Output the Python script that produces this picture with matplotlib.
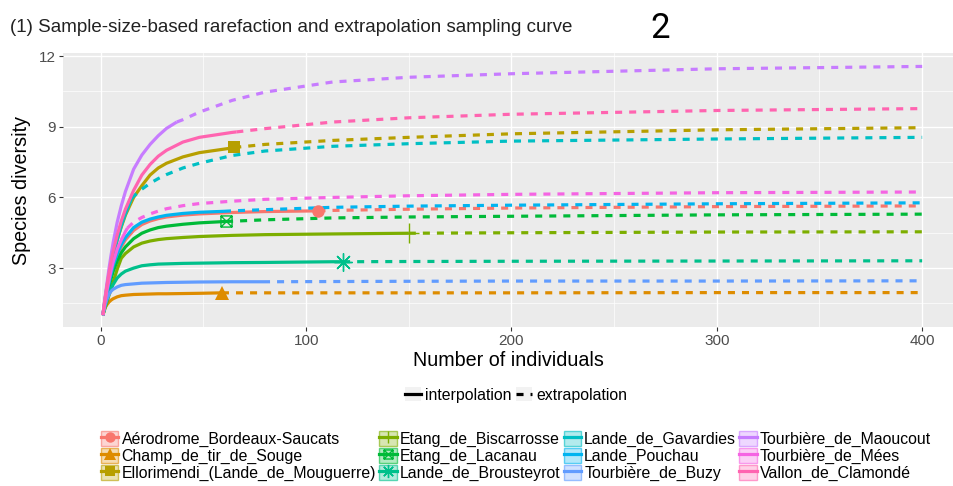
import numpy as np
import matplotlib
matplotlib.use("Agg")
import matplotlib.pyplot as plt
from matplotlib.path import Path
from matplotlib.patches import Patch
from matplotlib.lines import Line2D
from matplotlib.colors import to_rgba

plt.rcParams['font.family'] = ['Liberation Sans', 'DejaVu Sans']

m_grid = [1, 2, 3, 4, 5, 6, 8, 10, 12, 16, 20, 24, 28, 32, 40, 48, 64, 80, 113, 150, 200, 300, 400]

sites = ["Aérodrome_Bordeaux-Saucats", "Champ_de_tir_de_Souge",
         "Ellorimendi_(Lande_de_Mouguerre)", "Etang_de_Biscarrosse",
         "Etang_de_Lacanau", "Lande_de_Brousteyrot", "Lande_de_Gavardies",
         "Lande_Pouchau", "Tourbière_de_Buzy", "Tourbière_de_Maoucout",
         "Tourbière_de_Mées", "Vallon_de_Clamondé"]

# observed reference sample (size, diversity)
obs_n = [106, 59, 65, 150, 61, 118, 15, 60, 79, 37, 13, 66]
obs_s = [5.43, 1.95, 8.12, 4.48, 4.98, 3.27, 5.95, 5.41, 2.42, 9.2, 4.7, 8.78]

aerodrome = [1.0, 1.5, 1.95, 2.35, 2.7, 3.0, 3.5, 3.9, 4.2, 4.6, 4.85, 5.0, 5.1, 5.17, 5.25, 5.3, 5.36, 5.4, 5.45, 5.5, 5.55, 5.61, 5.64]
champ = [1.0, 1.3, 1.45, 1.56, 1.64, 1.7, 1.78, 1.83, 1.85, 1.88, 1.89, 1.9, 1.91, 1.91, 1.92, 1.93, 1.95, 1.95, 1.95, 1.95, 1.95, 1.96, 1.96]
ellorimendi = [1.0, 1.65, 2.2, 2.7, 3.15, 3.55, 4.2, 4.75, 5.25, 6.0, 6.5, 6.95, 7.25, 7.45, 7.72, 7.9, 8.1, 8.25, 8.42, 8.55, 8.7, 8.87, 8.96]
biscarrosse = [1.0, 1.28, 1.56, 1.84, 2.12, 2.4, 2.95, 3.42, 3.62, 3.9, 4.06, 4.15, 4.21, 4.25, 4.3, 4.34, 4.39, 4.42, 4.45, 4.48, 4.5, 4.53, 4.54]
lacanau = [1.0, 1.45, 1.85, 2.2, 2.55, 2.85, 3.3, 3.65, 3.9, 4.25, 4.48, 4.62, 4.72, 4.78, 4.86, 4.92, 4.99, 5.05, 5.13, 5.17, 5.2, 5.26, 5.29]
brousteyrot = [1.0, 1.35, 1.65, 1.92, 2.12, 2.3, 2.58, 2.75, 2.87, 3.0, 3.1, 3.14, 3.17, 3.18, 3.2, 3.21, 3.23, 3.24, 3.27, 3.28, 3.29, 3.3, 3.31]
gavardies = [1.0, 1.6, 2.15, 2.65, 3.1, 3.5, 4.2, 4.8, 5.3, 6.05, 6.35, 6.6, 6.8, 6.97, 7.25, 7.45, 7.78, 7.97, 8.17, 8.28, 8.39, 8.48, 8.55]
pouchau = [1.0, 1.5, 1.95, 2.35, 2.75, 3.1, 3.6, 4.0, 4.3, 4.72, 4.95, 5.08, 5.17, 5.24, 5.32, 5.37, 5.43, 5.48, 5.58, 5.63, 5.67, 5.73, 5.77]
buzy = [1.0, 1.4, 1.68, 1.88, 2.02, 2.1, 2.2, 2.27, 2.3, 2.33, 2.36, 2.37, 2.38, 2.39, 2.4, 2.41, 2.42, 2.42, 2.43, 2.44, 2.45, 2.45, 2.46]
maoucout = [1.0, 1.7, 2.35, 2.98, 3.55, 4.07, 4.95, 5.65, 6.25, 7.2, 7.8, 8.25, 8.62, 8.93, 9.3, 9.62, 10.12, 10.47, 10.9, 11.1, 11.25, 11.46, 11.56]
mees = [1.0, 1.55, 2.05, 2.5, 2.9, 3.25, 3.8, 4.2, 4.55, 4.95, 5.15, 5.3, 5.42, 5.52, 5.65, 5.74, 5.84, 5.92, 6.0, 6.07, 6.13, 6.2, 6.23]
clamonde = [1.0, 1.65, 2.25, 2.8, 3.3, 3.7, 4.4, 5.0, 5.5, 6.3, 6.95, 7.4, 7.75, 8.0, 8.35, 8.55, 8.76, 8.92, 9.2, 9.38, 9.53, 9.69, 9.77]

curves = [aerodrome, champ, ellorimendi, biscarrosse, lacanau, brousteyrot,
          gavardies, pouchau, buzy, maoucout, mees, clamonde]

colors = ["#F8766D", "#DE8C00", "#B79F00", "#7CAE00", "#00BA38", "#00C08B",
          "#00BFC4", "#00B4F0", "#619CFF", "#C77CFF", "#F564E3", "#FF64B0"]

# square with a cross (ggplot shape 7)
boxx = Path([(-1, -1), (1, -1), (1, 1), (-1, 1), (-1, -1), (-1, -1), (1, 1), (-1, 1), (1, -1)],
            [Path.MOVETO, Path.LINETO, Path.LINETO, Path.LINETO, Path.CLOSEPOLY,
             Path.MOVETO, Path.LINETO, Path.MOVETO, Path.LINETO])
markers = ['o', '^', 's', '+', boxx, (8, 2, 0), None, None, None, None, None, None]
msizes = [9, 10, 8.5, 15, 8, 13, 0, 0, 0, 0, 0, 0]
leg_msizes = [7.5, 8.5, 7.5, 9, 6.5, 9.5, 0, 0, 0, 0, 0, 0]

W, H = 954, 486
fig = plt.figure(figsize=(W / 100, H / 100), dpi=100)
ax = fig.add_axes([63 / W, 1 - 327 / H, 1 - 63 / W, 274 / H])
ax.set_facecolor('#EBEBEB')

lw = 2.3
grid = np.array(m_grid)
for i, (name, ys) in enumerate(zip(sites, curves)):
    ys = np.array(ys)
    n, s = obs_n[i], obs_s[i]
    xi = np.append(grid[grid < n], n)
    yi = np.append(ys[grid < n], s)
    xe = np.insert(grid[grid > n], 0, n)
    ye = np.insert(ys[grid > n], 0, s)
    ax.plot(xi, yi, color=colors[i], lw=lw, solid_capstyle='butt', solid_joinstyle='round',
            zorder=3 + i * 0.1)
    ax.plot(xe, ye, color=colors[i], lw=lw, dashes=(2.2, 2.2), dash_capstyle='butt',
            zorder=3 + i * 0.1)
    if markers[i] is not None:
        filled = markers[i] in ('o', '^', 's')
        ax.plot([n], [s], marker=markers[i], ms=msizes[i], color=colors[i],
                mfc=colors[i] if filled else 'none', mew=0 if filled else 1.0,
                zorder=5)

ax.set_xlim(-18.4, 415.5)
ax.set_ylim(0.5, 12.13)
ax.set_xticks([0, 100, 200, 300, 400])
ax.set_yticks([3, 6, 9, 12])
ax.set_xticks([50, 150, 250, 350], minor=True)
ax.set_yticks([1.5, 4.5, 7.5, 10.5], minor=True)
ax.grid(True, which='major', color='white', lw=1.0)
ax.grid(True, which='minor', color='white', lw=0.5)
ax.set_axisbelow(True)
for sp in ax.spines.values():
    sp.set_visible(False)
ax.tick_params(which='major', length=3, width=0.8, color='#333333',
               labelsize=11, labelcolor='#4D4D4D', pad=2)
ax.tick_params(which='minor', length=0)

ax.set_xlabel("Number of individuals", fontsize=14.2, labelpad=2)
ax.set_ylabel("Species diversity", fontsize=14.2, labelpad=6)

fig.text(10 / W, 1 - 27 / H, "(1) Sample-size-based rarefaction and extrapolation sampling curve",
         fontsize=13.5, color='#222222', va='center', ha='left')
fig.text(660 / W, 1 - 28 / H, "2", fontsize=25, family=['Roboto', 'DejaVu Sans'],
         fontweight='normal', va='center', ha='center')

# linetype legend
key_bg = '#F2F2F2'
lt_handles = [(Patch(facecolor=key_bg, edgecolor='none'), Line2D([], [], color='black', lw=lw)),
              (Patch(facecolor=key_bg, edgecolor='none'),
               Line2D([], [], color='black', lw=lw, dashes=(2.2, 2.2)))]
fig.legend(lt_handles, ["interpolation", "extrapolation"], ncol=2, frameon=False,
           loc='center', bbox_to_anchor=(516 / W, 1 - 395 / H), fontsize=11.4,
           handlelength=1.0, handleheight=1.0, handletextpad=0.25, columnspacing=0.3,
           borderpad=0, borderaxespad=0)

# site legend
handles = []
for i in range(len(sites)):
    c = colors[i]
    line = Line2D([], [], color=c, lw=lw)
    if markers[i] is not None:
        filled = markers[i] in ('o', '^', 's')
        line.set_marker(markers[i])
        line.set_markersize(leg_msizes[i])
        line.set_markerfacecolor(c if filled else 'none')
        line.set_markeredgewidth(0 if filled else 1.0)
    handles.append((Patch(facecolor=to_rgba(c, 0.3), edgecolor=to_rgba(c, 0.6), lw=1), line))
fig.legend(handles, sites, ncol=4, frameon=False, loc='upper left',
           bbox_to_anchor=(101 / W, 1 - 431 / H), fontsize=11.4,
           handlelength=1.1, handleheight=1.1, handletextpad=0.2, columnspacing=0.2,
           labelspacing=0.05, borderpad=0, borderaxespad=0)

fig.savefig("out.png", dpi=100)
